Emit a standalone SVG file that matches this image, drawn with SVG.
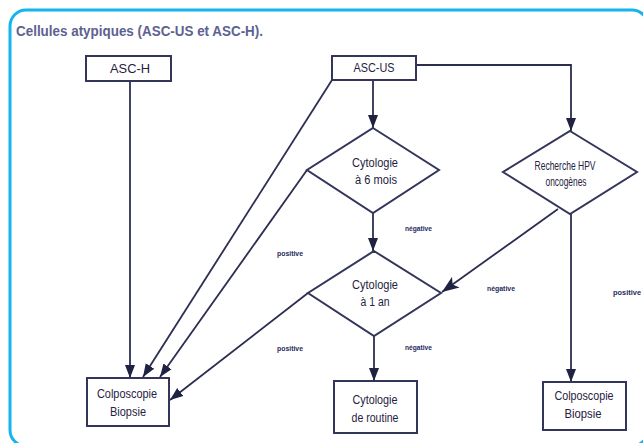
<svg xmlns="http://www.w3.org/2000/svg" width="643" height="443" viewBox="0 0 643 443">
<defs>
<style>
.frame{fill:none;stroke:#14b4ec;stroke-width:3}
.box{fill:#fff;stroke:#33365a;stroke-width:2}
.dia{fill:#fff;stroke:#33365a;stroke-width:2}
.c{fill:none;stroke:#2b2e50;stroke-width:1.8}
.t{font-family:"Liberation Sans",Arial,sans-serif;font-size:12.5px;fill:#1f2240;text-anchor:middle}
.s{font-family:"Liberation Sans",Arial,sans-serif;font-size:7.5px;font-weight:bold;fill:#262a5c}
.title{font-family:"Liberation Sans",Arial,sans-serif;font-size:14px;font-weight:bold;fill:#5d6190}
</style>
<marker id="ah" markerUnits="userSpaceOnUse" markerWidth="14" markerHeight="12" refX="13" refY="5" orient="auto" viewBox="0 0 14 10">
<path d="M0,0 L13,5 L0,10 Z" fill="#1f2240"/>
</marker>
<marker id="ahb" markerUnits="userSpaceOnUse" markerWidth="18" markerHeight="14" refX="17" refY="6.5" orient="auto" viewBox="0 0 18 13">
<path d="M0,0 L17,6.5 L0,13 L4,6.5 Z" fill="#1f2240"/>
</marker>
</defs>
<rect class="frame" x="10" y="10" width="638" height="436" rx="16"/>
<text class="title" x="16" y="36" textLength="247" lengthAdjust="spacingAndGlyphs">Cellules atypiques (ASC-US et ASC-H).</text>

<g id="connectors">
<line class="c" x1="130" y1="81" x2="130" y2="378" marker-end="url(#ah)"/>
<line class="c" x1="332" y1="80" x2="143" y2="377" marker-end="url(#ah)"/>
<line class="c" x1="307" y1="170" x2="160" y2="377" marker-end="url(#ah)"/>
<line class="c" x1="308" y1="293" x2="170" y2="400" marker-end="url(#ah)"/>
<line class="c" x1="373" y1="80" x2="373" y2="128" marker-end="url(#ah)"/>
<line class="c" x1="373" y1="213" x2="373" y2="251" marker-end="url(#ah)"/>
<line class="c" x1="374" y1="336" x2="374" y2="381" marker-end="url(#ah)"/>
<polyline class="c" points="416,65 571,65 571,131" marker-end="url(#ah)"/>
<line class="c" x1="571" y1="214" x2="571" y2="382" marker-end="url(#ah)"/>
<line class="c" x1="558" y1="209" x2="442" y2="292" marker-end="url(#ahb)"/>
<text class="s" x="277" y="256" textLength="26" lengthAdjust="spacingAndGlyphs">positive</text>
<text class="s" x="277" y="351" textLength="26" lengthAdjust="spacingAndGlyphs">positive</text>
<text class="s" x="405" y="231" textLength="27" lengthAdjust="spacingAndGlyphs">négative</text>
<text class="s" x="405" y="350" textLength="27" lengthAdjust="spacingAndGlyphs">négative</text>
<text class="s" x="487" y="291" textLength="28" lengthAdjust="spacingAndGlyphs">négative</text>
<text class="s" x="613" y="295" textLength="28" lengthAdjust="spacingAndGlyphs">positive</text>
</g>

<g id="asc-h">
<rect class="box" x="86" y="56" width="85" height="25"/>
<text class="t" x="130" y="73" textLength="40" lengthAdjust="spacingAndGlyphs">ASC-H</text>
</g>
<g id="asc-us">
<rect class="box" x="332" y="56" width="84" height="24"/>
<text class="t" x="374" y="72" textLength="41" lengthAdjust="spacingAndGlyphs">ASC-US</text>
</g>
<g id="cyto6">
<polygon class="dia" points="373,128 439,170 373,213 307,170"/>
<text class="t" x="375" y="167" textLength="46" lengthAdjust="spacingAndGlyphs">Cytologie</text>
<text class="t" x="376" y="184" textLength="42" lengthAdjust="spacingAndGlyphs">à 6 mois</text>
</g>
<g id="hpv">
<polygon class="dia" points="570,131 637,172 570,214 503,172"/>
<text class="t" x="565" y="170" textLength="61" lengthAdjust="spacingAndGlyphs">Recherche HPV</text>
<text class="t" x="566" y="186" textLength="41" lengthAdjust="spacingAndGlyphs">oncogènes</text>
</g>
<g id="cyto1">
<polygon class="dia" points="374,251 441,293 374,336 308,293"/>
<text class="t" x="375" y="289" textLength="46" lengthAdjust="spacingAndGlyphs">Cytologie</text>
<text class="t" x="375" y="306" textLength="29" lengthAdjust="spacingAndGlyphs">à 1 an</text>
</g>
<g id="colpo-left">
<rect class="box" x="87" y="378" width="82" height="48"/>
<text class="t" x="127" y="398" textLength="60" lengthAdjust="spacingAndGlyphs">Colposcopie</text>
<text class="t" x="128" y="416" textLength="36" lengthAdjust="spacingAndGlyphs">Biopsie</text>
</g>
<g id="cyto-routine">
<rect class="box" x="334" y="381" width="83" height="52"/>
<text class="t" x="375" y="404" textLength="45" lengthAdjust="spacingAndGlyphs">Cytologie</text>
<text class="t" x="375" y="422" textLength="47" lengthAdjust="spacingAndGlyphs">de routine</text>
</g>
<g id="colpo-right">
<rect class="box" x="543" y="382" width="83" height="48"/>
<text class="t" x="584" y="400" textLength="59" lengthAdjust="spacingAndGlyphs">Colposcopie</text>
<text class="t" x="583" y="418" textLength="37" lengthAdjust="spacingAndGlyphs">Biopsie</text>
</g>
</svg>
